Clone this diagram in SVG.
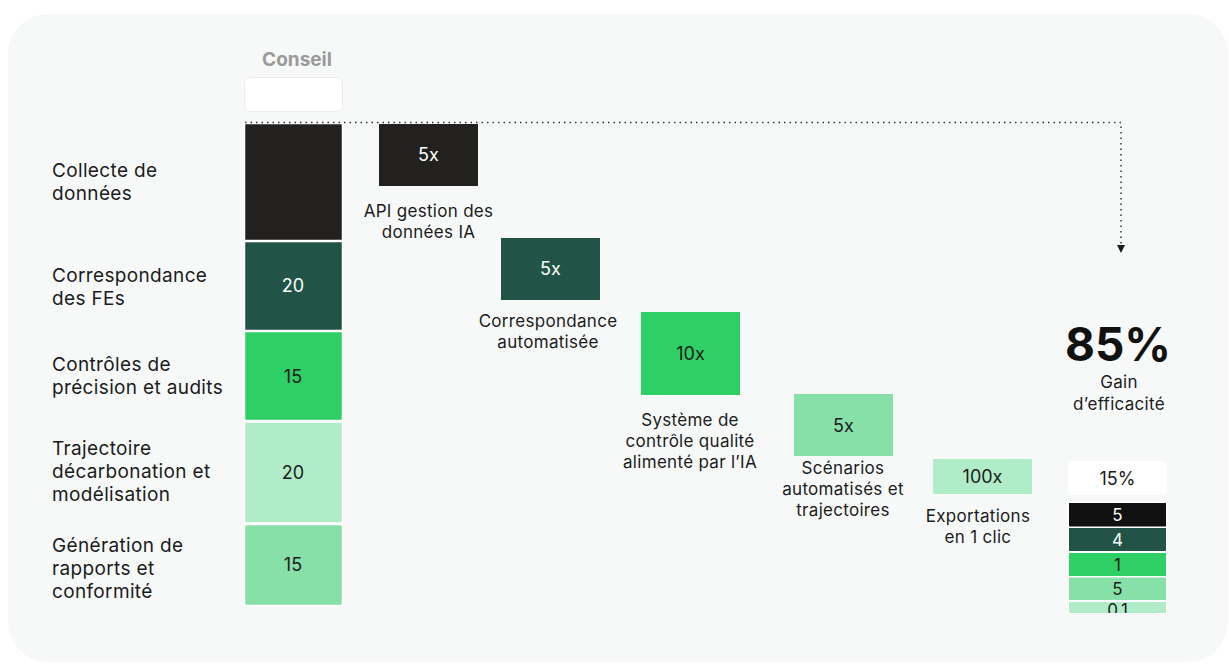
<svg xmlns="http://www.w3.org/2000/svg" width="1229" height="664" viewBox="0 0 1229 664">
  <style>
    text { font-family: Inter, "Noto Sans", "Liberation Sans", sans-serif; fill: #1b1b1b; }
    .lbl { font-size: 19px; letter-spacing: 0.35px; }
    .cap { font-size: 17px; letter-spacing: 0.3px; text-anchor: middle; }
    .num { font-size: 18px; text-anchor: middle; }
    .sm { font-size: 17px; text-anchor: middle; }
    .w { fill: #ffffff; }
    .seg { stroke: #ffffff; stroke-width: 1.5; }
    .c1 { fill: #222120; }
    .c2 { fill: #215446; }
    .c3 { fill: #2ecf65; }
    .c4 { fill: #b1ecc8; }
    .c5 { fill: #87e0a8; }
  </style>
  <defs>
    <marker id="arrow" viewBox="0 0 8 8" refX="8" refY="4" markerWidth="8" markerHeight="8" markerUnits="userSpaceOnUse" orient="auto">
      <path d="M0,0 L8,4 L0,8 Z" fill="#1b1b1b"/>
    </marker>
    <clipPath id="stackClip">
      <rect x="1068" y="501" width="99" height="112"/>
    </clipPath>
  </defs>

  <rect x="0" y="0" width="1229" height="664" fill="#ffffff"/>
  <rect x="8" y="14" width="1220" height="648" rx="40" fill="#f7f9f9"/>

  <!-- column header -->
  <g id="header">
    <text x="297" y="66" font-size="19" font-weight="700" text-anchor="middle" style="fill:#9a9a9a">Conseil</text>
    <rect x="244.5" y="77.5" width="98" height="34" rx="6" fill="#ffffff" stroke="#ececec"/>
  </g>

  <!-- row labels -->
  <g id="row-labels">
    <text class="lbl" x="52" y="177">Collecte de</text>
    <text class="lbl" x="52" y="200">données</text>
    <text class="lbl" x="52" y="282">Correspondance</text>
    <text class="lbl" x="52" y="305">des FEs</text>
    <text class="lbl" x="52" y="371">Contrôles de</text>
    <text class="lbl" x="52" y="394">précision et audits</text>
    <text class="lbl" x="52" y="455">Trajectoire</text>
    <text class="lbl" x="52" y="478">décarbonation et</text>
    <text class="lbl" x="52" y="501">modélisation</text>
    <text class="lbl" x="52" y="552">Génération de</text>
    <text class="lbl" x="52" y="575">rapports et</text>
    <text class="lbl" x="52" y="598">conformité</text>
  </g>

  <!-- baseline column -->
  <g id="baseline-stack">
    <rect class="seg c1" x="244.5" y="123.5" width="98" height="117"/>
    <rect class="seg c2" x="244.5" y="241.5" width="98" height="89"/>
    <text class="num w" x="293" y="292">20</text>
    <rect class="seg c3" x="244.5" y="331.5" width="98" height="89"/>
    <text class="num" x="293" y="383">15</text>
    <rect class="seg c4" x="244.5" y="422" width="98" height="101"/>
    <text class="num" x="293" y="479">20</text>
    <rect class="seg c5" x="244.5" y="524.5" width="98" height="81"/>
    <text class="num" x="293" y="571">15</text>
  </g>

  <!-- connectors -->
  <g id="connectors" fill="none" stroke="#333333" stroke-width="1.5" stroke-dasharray="1.5 4">
    <path d="M245,122.5 H1121 V253" marker-end="url(#arrow)"/>
  </g>

  <!-- step nodes -->
  <g id="step-api">
    <rect class="c1" x="379" y="124" width="99" height="62"/>
    <text class="num w" x="428.5" y="161">5x</text>
    <text class="cap" x="428.5" y="217">API gestion des</text>
    <text class="cap" x="428.5" y="238">données IA</text>
  </g>
  <g id="step-match">
    <rect class="c2" x="501" y="238" width="99" height="62"/>
    <text class="num w" x="550.5" y="275">5x</text>
    <text class="cap" x="548" y="327">Correspondance</text>
    <text class="cap" x="548" y="348">automatisée</text>
  </g>
  <g id="step-qc">
    <rect class="c3" x="641" y="312" width="99" height="83"/>
    <text class="num" x="690.5" y="360">10x</text>
    <text class="cap" x="690" y="426">Système de</text>
    <text class="cap" x="690" y="447">contrôle qualité</text>
    <text class="cap" x="690" y="468">alimenté par l’IA</text>
  </g>
  <g id="step-scen">
    <rect class="c5" x="794" y="394" width="99" height="62"/>
    <text class="num" x="843.5" y="432">5x</text>
    <text class="cap" x="843" y="474">Scénarios</text>
    <text class="cap" x="843" y="495">automatisés et</text>
    <text class="cap" x="843" y="516">trajectoires</text>
  </g>
  <g id="step-export">
    <rect class="c4" x="933" y="459" width="99" height="35"/>
    <text class="num" x="982.5" y="483">100x</text>
    <text class="cap" x="978" y="522">Exportations</text>
    <text class="cap" x="978" y="543">en 1 clic</text>
  </g>

  <!-- result -->
  <g id="result">
    <text x="1118" y="361" font-size="46" font-weight="700" text-anchor="middle" style="fill:#111111">85%</text>
    <text class="cap" x="1119" y="388">Gain</text>
    <text class="cap" x="1119" y="410">d’efficacité</text>
    <rect x="1068" y="461" width="99" height="34" rx="5" fill="#ffffff"/>
    <text class="num" x="1117.5" y="485">15%</text>
  </g>
  <g id="result-stack">
    <rect x="1068" y="501" width="99" height="113" fill="#ffffff"/>
    <g clip-path="url(#stackClip)">
      <rect x="1069" y="503" width="97" height="23.5" fill="#111111"/>
      <text class="sm w" x="1117.5" y="521">5</text>
      <rect x="1069" y="528" width="97" height="23" class="c2"/>
      <text class="sm w" x="1117.5" y="546">4</text>
      <rect x="1069" y="553" width="97" height="23" class="c3"/>
      <text class="sm" x="1117.5" y="571">1</text>
      <rect x="1069" y="577.5" width="97" height="22.5" class="c5"/>
      <text class="sm" x="1117.5" y="595">5</text>
      <rect x="1069" y="602" width="97" height="11" class="c4"/>
      <text class="sm" x="1117.5" y="616">0.1</text>
    </g>
  </g>
</svg>
